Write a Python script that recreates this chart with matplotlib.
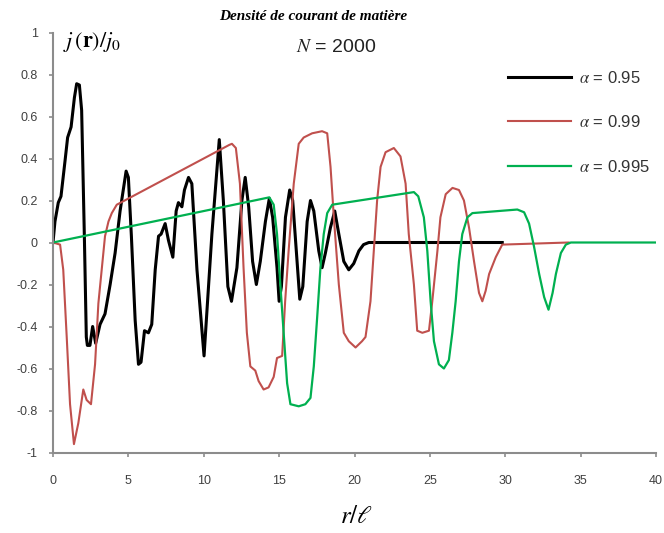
import matplotlib.pyplot as plt

# values (r / l on x, j(r)/j0 on y)
black_x = [0, 0.13, 0.35, 0.53, 0.8, 0.97, 1.2, 1.42, 1.57, 1.75, 1.9, 2.08, 2.21, 2.28, 2.45,
           2.63, 2.83, 3.12, 3.45, 3.79, 4.12, 4.45, 4.85, 5.0, 5.2, 5.45, 5.67, 5.84, 6.07, 6.33,
           6.55, 6.78, 7.0, 7.17, 7.44, 7.66, 7.95, 8.17, 8.32, 8.55, 8.72, 8.99, 9.21, 9.55, 10.02,
           10.54, 11.03, 11.3, 11.6, 11.84, 12.2, 12.53, 12.75, 12.98, 13.24, 13.49, 13.75, 14.09,
           14.35, 14.57, 14.86, 15.0, 15.15, 15.42, 15.7, 15.9, 16.19, 16.37, 16.57, 16.86, 17.08,
           17.3, 17.63, 17.85, 18.07, 18.4, 18.69, 18.96, 19.29, 19.62, 19.95, 20.29, 20.6, 20.95, 29.8]
black_y = [0, 0.10, 0.19, 0.22, 0.39, 0.50, 0.55, 0.69, 0.756, 0.75, 0.63, 0.03, -0.45, -0.49, -0.49,
           -0.40, -0.48, -0.39, -0.34, -0.20, -0.05, 0.15, 0.34, 0.31, 0.03, -0.37, -0.58, -0.57, -0.42, -0.43,
           -0.39, -0.13, 0.03, 0.04, 0.09, 0.01, -0.07, 0.15, 0.19, 0.17, 0.25, 0.31, 0.28, -0.13, -0.54,
           0.04, 0.49, 0.2, -0.21, -0.28, -0.12, 0.2, 0.31, 0.17, -0.09, -0.20, -0.09, 0.10,
           0.21, 0.12, -0.12, -0.28, -0.21, 0.12, 0.25, 0.2, -0.09, -0.27, -0.21, 0.10, 0.2,
           0.15, -0.04, -0.12, -0.05, 0.07, 0.15, 0.04, -0.09, -0.13, -0.10, -0.04, -0.01, 0, 0]

red_x = [0, 0.47, 0.68, 0.91, 1.13, 1.39, 1.68, 2.01, 2.23, 2.52, 2.79, 3.01, 3.23, 3.45, 3.68, 3.9,
         4.23, 11.7, 11.87, 12.13, 12.4, 12.64, 12.86, 13.09, 13.42, 13.64, 13.97, 14.3, 14.64, 14.86,
         15.2, 15.4, 15.63, 15.97, 16.3, 16.63, 17.19, 17.85, 18.19, 18.41, 18.63, 18.96, 19.29, 19.62,
         20.07, 20.5, 20.73, 21.06, 21.28, 21.5, 21.73, 22.06, 22.61, 23.05, 23.39, 23.6, 23.94, 24.16,
         24.5, 24.94, 25.16, 25.5, 25.7, 26.05, 26.5, 26.93, 27.26, 27.6, 27.93, 28.26, 28.48, 28.7,
         28.93, 29.37, 29.8, 34.2]
red_y = [0, -0.01, -0.13, -0.45, -0.77, -0.96, -0.86, -0.70, -0.75, -0.77, -0.58, -0.29, -0.13, 0.03, 0.10, 0.14,
         0.18, 0.465, 0.47, 0.45, 0.28, -0.12, -0.43, -0.59, -0.61, -0.66, -0.70, -0.69, -0.64, -0.55,
         -0.54, -0.28, -0.04, 0.28, 0.47, 0.50, 0.52, 0.53, 0.52, 0.36, 0.12, -0.20, -0.43, -0.47,
         -0.50, -0.47, -0.45, -0.28, -0.04, 0.2, 0.36, 0.43, 0.45, 0.41, 0.28, 0.04, -0.20, -0.42,
         -0.43, -0.42, -0.28, -0.04, 0.12, 0.23, 0.26, 0.25, 0.2, 0.07, -0.09, -0.24, -0.28, -0.23,
         -0.15, -0.07, -0.01, 0]

green_x = [0, 14.35, 14.64, 14.86, 15.08, 15.3, 15.53, 15.75, 16.3, 16.74, 17.08, 17.3, 17.52, 17.74,
           17.96, 18.19, 18.52, 23.94, 24.23, 24.6, 24.83, 25.05, 25.27, 25.6, 25.93, 26.26, 26.49, 26.71,
           26.93, 27.15, 27.49, 27.82, 30.8, 31.25, 31.58, 31.91, 32.25, 32.58, 32.87, 33.14, 33.36,
           33.69, 34.02, 34.35, 40]
green_y = [0, 0.215, 0.18, 0.04, -0.20, -0.43, -0.67, -0.77, -0.78, -0.77, -0.74, -0.59, -0.36, -0.12,
           0.04, 0.14, 0.18, 0.24, 0.22, 0.12, -0.04, -0.28, -0.47, -0.58, -0.60, -0.56, -0.43, -0.28,
           -0.09, 0.04, 0.12, 0.14, 0.157, 0.144, 0.09, -0.02, -0.15, -0.26, -0.32, -0.24, -0.15,
           -0.05, -0.01, 0, 0]

series_labels = [r'$\alpha$ = 0.95', r'$\alpha$ = 0.99', r'$\alpha$ = 0.995']

x_ticks = [0, 5, 10, 15, 20, 25, 30, 35, 40]
x_tick_labels = ['0', '5', '10', '15', '20', '25', '30', '35', '40']
y_ticks = [1, 0.8, 0.6, 0.4, 0.2, 0, -0.2, -0.4, -0.6, -0.8, -1]
y_tick_labels = ['1', '0.8', '0.6', '0.4', '0.2', '0', '-0.2', '-0.4', '-0.6', '-0.8', '-1']

plt.rcParams['mathtext.fontset'] = 'stix'
plt.rcParams['font.family'] = ['Liberation Sans', 'DejaVu Sans']

W, H = 664, 533
fig = plt.figure(figsize=(W / 100, H / 100), dpi=100)
ax = fig.add_axes([53 / W, 1 - 452.5 / H, (656 - 53) / W, (452.5 - 32.5) / H])

ax.plot(black_x, black_y, color='black', lw=2.2, label=series_labels[0], solid_joinstyle='round')
ax.plot(red_x, red_y, color='#C0504D', lw=1.5, label=series_labels[1], solid_joinstyle='round')
ax.plot(green_x, green_y, color='#00B050', lw=1.6, label=series_labels[2], solid_joinstyle='round')

ax.set_xlim(0, 40)
ax.set_ylim(-1, 1)
ax.set_xticks(x_ticks)
ax.set_xticklabels(x_tick_labels)
ax.set_yticks(y_ticks)
ax.set_yticklabels(y_tick_labels)

for side in ['top', 'right']:
    ax.spines[side].set_visible(False)
for side in ['left', 'bottom']:
    ax.spines[side].set_color('#8c8c8c')
    ax.spines[side].set_linewidth(1.5)
ax.tick_params(axis='both', direction='out', length=3, width=1.2, color='#8c8c8c',
               labelsize=9, labelcolor='#404040')
ax.tick_params(axis='x', pad=13)
ax.tick_params(axis='y', pad=8)

leg = ax.legend(loc='upper left', bbox_to_anchor=(493 / W, 1 - 55 / H), bbox_transform=fig.transFigure,
                frameon=False, fontsize=12, handlelength=3.8, labelspacing=1.7, handletextpad=0.45)
for t in leg.get_texts():
    t.set_color('#333333')

fig.text(313 / W, 1 - 16 / H, 'Densité de courant de matière', ha='center', va='center',
         family='Liberation Serif', fontweight='bold', fontstyle='italic', fontsize=11)
fig.text(336 / W, 1 - 48 / H, r'$N$ = 2000', ha='center', va='center', fontsize=14, color='#222222')
fig.text(63 / W, 1 - 42 / H, r'$j\,(\mathbf{r})/j_0$', ha='left', va='center', fontsize=16)
fig.text(356 / W, 1 - 516 / H, r'$r/\ell$', ha='center', va='center', fontsize=18)

fig.savefig('out.png', dpi=100)
